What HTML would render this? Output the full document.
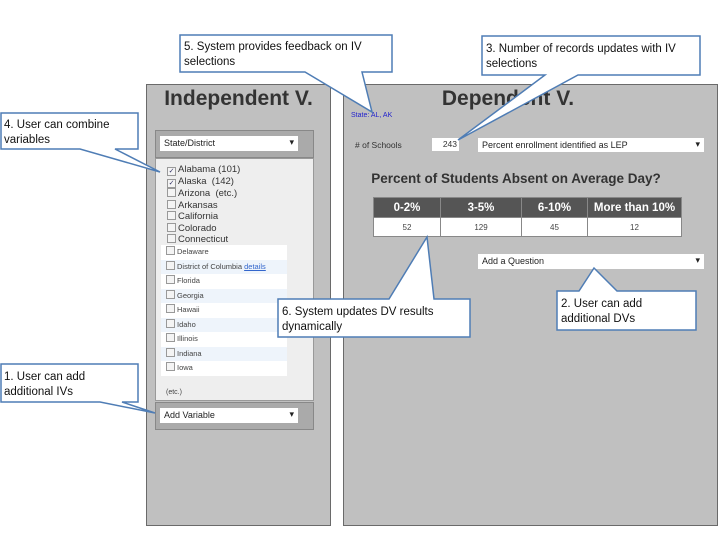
<!DOCTYPE html>
<html><head><meta charset="utf-8"><style>
body{margin:0;width:720px;height:540px;background:#fff;position:relative;overflow:hidden;font-family:"Liberation Sans",sans-serif}
.a{position:absolute}
.panel{background:#c0c0c0;border:1px solid #6a6a6a;box-sizing:border-box}
.sel{background:#fff;font-size:9px;color:#222;box-sizing:border-box;padding:2px 4px;line-height:11px}
.sel:after{content:"▾";position:absolute;right:4px;top:1px;font-size:9px}
.h{font-weight:bold;color:#333}
.it{font-size:9.5px;color:#333;line-height:11.5px}
.cb{display:inline-block;width:7px;height:7px;border:1px solid #999;background:#f4f4f4;margin-right:2px;vertical-align:-1px;font-size:7px;line-height:7px;text-align:center;color:#336}
.row{position:absolute;left:161px;width:126px;height:14.5px;font-size:7.5px;color:#444;line-height:14px;padding-left:5px;box-sizing:border-box}
td,th{border:1px solid #888;text-align:center;padding:0;white-space:nowrap}
</style></head><body>
<div class="a panel" style="left:146px;top:84px;width:185px;height:442px"></div>
<div class="a panel" style="left:343px;top:84px;width:375px;height:442px"></div>
<div class="a h" style="left:146px;top:87px;width:185px;text-align:center;font-size:21px">Independent V.</div>
<div class="a h" style="left:343px;top:87px;width:330px;text-align:center;font-size:21px">Dependent V.</div>
<div class="a" style="left:155px;top:130px;width:159px;height:28px;background:#aaa;border:1px solid #888;box-sizing:border-box"></div>
<div class="a sel" style="left:160px;top:136px;width:138px;height:15px">State/District</div>
<div class="a" style="left:155px;top:158px;width:159px;height:243px;background:#eeeeee;border:1px solid #999;box-sizing:border-box"></div>
<div class="a it" style="left:167px;top:164px">
<div><span class="cb">✓</span>Alabama (101)</div><div><span class="cb">✓</span>Alaska &nbsp;(142)</div><div><span class="cb"></span>Arizona &nbsp;(etc.)</div><div><span class="cb"></span>Arkansas</div><div><span class="cb"></span>California</div><div><span class="cb"></span>Colorado</div><div><span class="cb"></span>Connecticut</div></div>
<div class="row" style="top:245px;background:#fff"><span class="cb"></span>Delaware</div>
<div class="row" style="top:259.5px;background:#eef4fb"><span class="cb"></span>District of Columbia <span style="color:#36c;text-decoration:underline">details</span></div>
<div class="row" style="top:274px;background:#fff"><span class="cb"></span>Florida</div>
<div class="row" style="top:288.5px;background:#eef4fb"><span class="cb"></span>Georgia</div>
<div class="row" style="top:303px;background:#fff"><span class="cb"></span>Hawaii</div>
<div class="row" style="top:317.5px;background:#eef4fb"><span class="cb"></span>Idaho</div>
<div class="row" style="top:332px;background:#fff"><span class="cb"></span>Illinois</div>
<div class="row" style="top:346.5px;background:#eef4fb"><span class="cb"></span>Indiana</div>
<div class="row" style="top:361px;background:#fff"><span class="cb"></span>Iowa</div>
<div class="a" style="left:166px;top:389px;font-size:7px;color:#444">(etc.)</div>
<div class="a" style="left:155px;top:402px;width:159px;height:28px;background:#aaa;border:1px solid #888;box-sizing:border-box"></div>
<div class="a sel" style="left:160px;top:408px;width:138px;height:15px">Add Variable</div>
<div class="a" style="left:351px;top:112px;font-size:7px;color:#22c">State: AL, AK</div>
<div class="a" style="left:355px;top:140px;font-size:8.5px;color:#333"># of Schools</div>
<div class="a" style="left:432px;top:138px;width:27px;height:13px;background:#fff;font-size:8.5px;text-align:right;line-height:13px;padding-right:2px;box-sizing:border-box;color:#333">243</div>
<div class="a sel" style="left:478px;top:138px;width:226px;height:14px">Percent enrollment identified as LEP</div>
<div class="a h" style="left:343px;top:171px;width:346px;text-align:center;font-size:13.5px">Percent of Students Absent on Average Day?</div>
<table class="a" style="left:373px;top:197px;width:306px;border-collapse:collapse;font-size:8px;table-layout:fixed">
<tr style="background:#555;color:#fff;font-size:11.5px;height:20px"><th style="width:66px">0-2%</th><th style="width:80px">3-5%</th><th style="width:65px">6-10%</th><th style="width:93px">More than 10%</th></tr>
<tr style="background:#fff;color:#444;height:19px"><td>52</td><td>129</td><td>45</td><td>12</td></tr></table>
<div class="a sel" style="left:478px;top:254px;width:226px;height:15px">Add a Question</div>
<svg class="a" style="left:0;top:0" width="720" height="540">
<g fill="#fff" stroke="#4f7db5" stroke-width="1.5">
<polygon points="180,35 392,35 392,72 362,72 372,112 305,72 180,72"/>
<polygon points="482,36 700,36 700,75 578,75 458,140 545,75 482,75"/>
<polygon points="1,113 138,113 138,149 115,149 160,172 80,149 1,149"/>
<polygon points="1,364 138,364 138,402 122,402 155,413 100,402 1,402"/>
<polygon points="278,299 389,299 427,237 434,299 470,299 470,337 278,337"/>
<polygon points="557,291 579,291 594,268 617,291 696,291 696,330 557,330"/>
</g>
<g font-family="Liberation Sans" font-size="11.5" fill="#111">
<text x="184" y="50">5. System provides feedback on IV</text><text x="184" y="65">selections</text>
<text x="486" y="52">3. Number of records updates with IV</text><text x="486" y="67">selections</text>
<text x="4" y="128">4. User can combine</text><text x="4" y="143">variables</text>
<text x="4" y="380">1. User can add</text><text x="4" y="395">additional IVs</text>
<text x="282" y="315">6. System updates DV results</text><text x="282" y="330">dynamically</text>
<text x="561" y="307">2. User can add</text><text x="561" y="322">additional DVs</text>
</g></svg>
</body></html>
